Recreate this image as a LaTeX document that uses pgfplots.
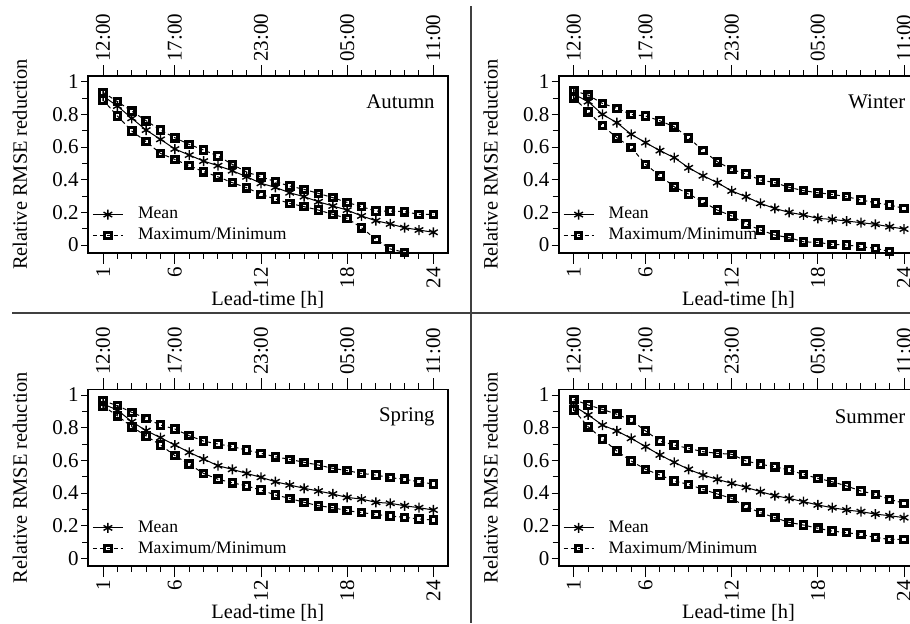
\documentclass[border=0pt]{standalone}
\usepackage{fontspec}
\setmainfont{Liberation Serif}
\usepackage{pgfplots}
\usepackage{pgfplotstable}
\pgfplotsset{compat=1.18}

\pgfplotstableread{
h mean max min
1 0.912 0.935 0.888
2 0.851 0.878 0.790
3 0.776 0.820 0.698
4 0.704 0.761 0.633
5 0.647 0.704 0.561
6 0.588 0.657 0.524
7 0.551 0.616 0.486
8 0.514 0.582 0.449
9 0.486 0.545 0.418
10 0.455 0.494 0.382
11 0.418 0.447 0.351
12 0.378 0.418 0.310
13 0.353 0.388 0.282
14 0.320 0.361 0.255
15 0.296 0.341 0.235
16 0.265 0.316 0.214
17 0.239 0.290 0.188
18 0.214 0.261 0.163
19 0.178 0.235 0.106
20 0.149 0.208 0.035
21 0.129 0.208 -0.024
22 0.106 0.204 -0.045
23 0.092 0.188 -0.070
24 0.078 0.188 -0.090
}\autumn

\pgfplotstableread{
h mean max min
1 0.924 0.945 0.902
2 0.878 0.918 0.816
3 0.800 0.867 0.731
4 0.749 0.837 0.657
5 0.678 0.800 0.598
6 0.627 0.790 0.494
7 0.578 0.761 0.424
8 0.535 0.724 0.357
9 0.473 0.657 0.312
10 0.424 0.578 0.265
11 0.382 0.510 0.214
12 0.331 0.463 0.178
13 0.296 0.435 0.129
14 0.255 0.398 0.092
15 0.224 0.382 0.061
16 0.200 0.353 0.045
17 0.184 0.333 0.020
18 0.163 0.320 0.016
19 0.157 0.310 0.004
20 0.147 0.296 0.000
21 0.137 0.276 -0.010
22 0.127 0.259 -0.020
23 0.112 0.245 -0.040
24 0.098 0.224 -0.060
}\winter

\pgfplotstableread{
h mean max min
1 0.945 0.965 0.933
2 0.908 0.935 0.873
3 0.837 0.894 0.806
4 0.782 0.857 0.749
5 0.739 0.816 0.694
6 0.694 0.792 0.629
7 0.649 0.751 0.576
8 0.608 0.718 0.520
9 0.567 0.700 0.484
10 0.545 0.684 0.463
11 0.520 0.663 0.443
12 0.496 0.643 0.418
13 0.469 0.622 0.388
14 0.449 0.606 0.367
15 0.429 0.588 0.343
16 0.412 0.571 0.322
17 0.394 0.551 0.310
18 0.373 0.537 0.292
19 0.363 0.520 0.280
20 0.343 0.510 0.269
21 0.337 0.494 0.259
22 0.322 0.484 0.251
23 0.310 0.469 0.241
24 0.296 0.455 0.235
}\spring

\pgfplotstableread{
h mean max min
1 0.933 0.973 0.908
2 0.878 0.939 0.806
3 0.816 0.912 0.731
4 0.780 0.882 0.657
5 0.735 0.847 0.596
6 0.684 0.780 0.545
7 0.633 0.718 0.510
8 0.588 0.694 0.473
9 0.545 0.673 0.453
10 0.510 0.653 0.422
11 0.484 0.643 0.394
12 0.459 0.637 0.367
13 0.435 0.596 0.316
14 0.408 0.576 0.280
15 0.384 0.561 0.249
16 0.367 0.541 0.220
17 0.347 0.514 0.204
18 0.327 0.490 0.184
19 0.310 0.469 0.167
20 0.296 0.443 0.157
21 0.286 0.412 0.147
22 0.271 0.392 0.127
23 0.261 0.361 0.116
24 0.249 0.337 0.116
}\summer

\pgfplotsset{
  base/.style={scale only axis, width=179.85pt, height=88.35pt,
    xmin=-0.05, xmax=25, ymin=-0.047, ymax=1.035,
    /pgf/number format/assume math mode=true,
    tick label style={font=\fontsize{10.5}{12}\selectfont, black},
    label style={font=\fontsize{10.2}{12}\selectfont},
    tick style={black, line width=0.5pt}},
  mainax/.style={base, axis line style={line width=0.8pt},
    xtick=\empty, ytick={0,0.2,0.4,0.6,0.8,1},
    yticklabels={0,0.2,0.4,0.6,0.8,1},
    minor ytick={0.1,0.3,0.5,0.7,0.9}, ytick pos=left, tick align=outside,
    major tick length=3.5pt, minor tick length=3pt,
    yticklabel style={inner sep=1pt},
    ylabel={Relative RMSE reduction},
    ylabel style={at={(axis description cs:-0.189,0.5)}, anchor=center},
    legend style={at={(axis description cs:0,0)}, anchor=south west,
      draw=none, fill=none, font=\fontsize{8.8}{10}\selectfont,
      xshift=-1pt, yshift=2pt, row sep=1.5pt,
      nodes={inner sep=0.8pt},
      /tikz/every odd column/.append style={column sep=6.5pt}},
    legend cell align=left,
    legend image code/.code={\draw[mark repeat=2,mark phase=2,##1]
      plot coordinates {(0pt,0pt)(7.5pt,0pt)(15pt,0pt)};}},
  botax/.style={base, hide y axis, axis x line*=bottom,
    axis line style={draw=none},
    xtick={1,6,12,18,24}, minor xtick={1,...,24}, tick align=outside,
    major tick length=5.5pt, minor tick length=3pt,
    xticklabel style={rotate=90, anchor=east, inner sep=1.5pt},
    xlabel={Lead-time [h]},
    xlabel style={at={(axis description cs:0.5,-0.266)}, anchor=center}},
  topax/.style={base, hide y axis, axis x line*=top,
    axis line style={draw=none},
    xtick={1,6,12,18,24}, xticklabels={12:00,17:00,23:00,05:00,11:00},
    minor xtick={1,...,24}, tick align=outside,
    major tick length=5.5pt, minor tick length=3pt,
    xticklabel style={rotate=90, anchor=west, inner sep=1.5pt}},
  meanst/.style={black, line width=0.5pt, mark=asterisk, mark size=2.5pt,
    mark options={solid, line width=0.7pt}},
  mmst/.style={black, line width=0.5pt, dash pattern=on 2pt off 1.5pt,
    mark=square, mark size=1.6pt, mark options={solid, line width=1.6pt}},
}

\newcommand{\panel}[5]{%
  \begin{axis}[mainax, at={(#1,#2)}, anchor=south west]
    \addplot[meanst] table[x=h,y=mean]{#3};
    \addlegendentry{Mean}
    \addplot[mmst] table[x=h,y=max]{#3};
    \addlegendentry{Maximum/Minimum}
    \addplot[mmst, forget plot] table[x=h,y=min]{#3};
    \node[anchor=east, font=\fontsize{10.4}{12}\selectfont, xshift=-3pt, yshift=#5]
      at (rel axis cs:1,1) {#4};
  \end{axis}
  \begin{axis}[botax, at={(#1,#2)}, anchor=south west]
  \end{axis}
  \begin{axis}[topax, at={(#1,#2)}, anchor=south west]
  \end{axis}
}

\begin{document}
\begin{tikzpicture}
\useasboundingbox (0,0) rectangle (455pt,-311.5pt);
\clip (0,0) rectangle (455pt,-311.5pt);
\panel{44pt}{-126.35pt}{\autumn}{Autumn}{-12.85pt}
\panel{279.35pt}{-126.35pt}{\winter}{Winter}{-12.85pt}
\panel{44pt}{-283pt}{\spring}{Spring}{-13.85pt}
\panel{279.35pt}{-283pt}{\summer}{Summer}{-13.85pt}
\draw[line width=1pt, black!75] (235.6pt,-3pt) -- (235.6pt,-311.5pt);
\draw[line width=1pt, black!75] (6pt,-156.5pt) -- (455pt,-156.5pt);
\end{tikzpicture}
\end{document}
